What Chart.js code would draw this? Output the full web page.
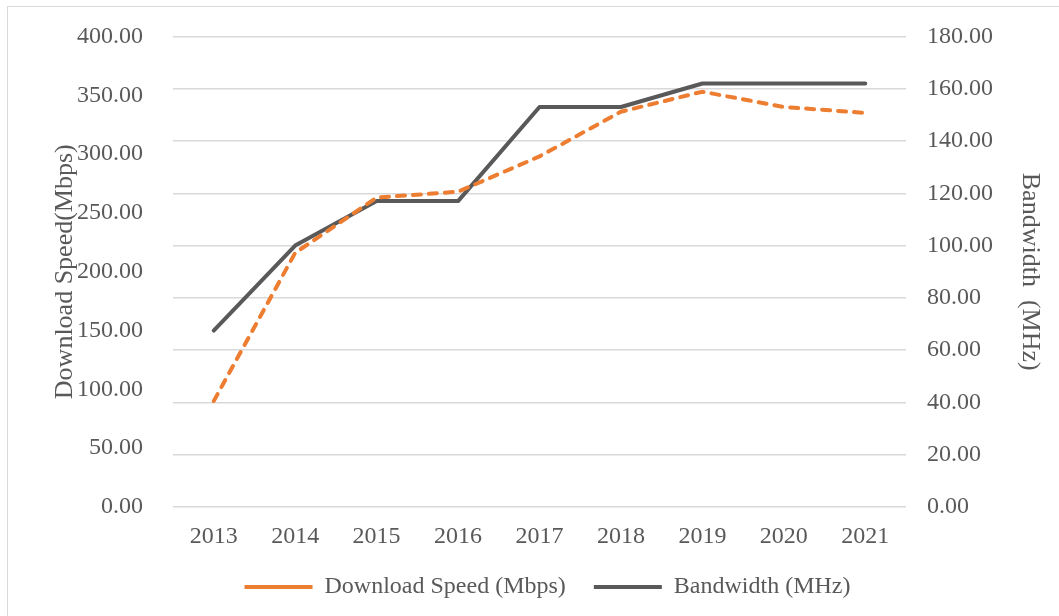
<!DOCTYPE html>
<html>
<head>
<meta charset="utf-8">
<script src="https://cdn.jsdelivr.net/npm/chart.js@4"></script>
<style>
  html, body { margin: 0; padding: 0; background: #fff; }
  #wrap { width: 1059px; height: 616px; }
</style>
</head>
<body>
<div id="wrap"><canvas id="speedChart" width="1059" height="616"></canvas></div>
<script>
const years = ['2013', '2014', '2015', '2016', '2017', '2018', '2019', '2020', '2021'];
const downloadSpeed = [90, 216, 263, 268, 298, 336, 353, 340, 335];
const bandwidth = [67.5, 100, 117, 117, 153, 153, 162, 162, 162];
const speedTicks = [0, 50, 100, 150, 200, 250, 300, 350, 400];
const bandTicks = [0, 20, 40, 60, 80, 100, 120, 140, 160, 180];

const textColor = '#595959';
const serif = "'Liberation Serif', 'Times New Roman', serif";

// rahmen um das ganze diagramm
const frame = {
  id: 'frame',
  beforeDraw(chart) {
    const c = chart.ctx;
    c.save();
    c.strokeStyle = '#d9d9d9';
    c.lineWidth = 1;
    c.strokeRect(7.5, 6.5, 1060, 620);
    c.restore();
  }
};

const ctx = document.getElementById('speedChart').getContext('2d');
new Chart(ctx, {
  type: 'line',
  data: {
    labels: years,
    datasets: [
      {
        label: 'Download Speed (Mbps)',
        data: downloadSpeed,
        yAxisID: 'y',
        borderColor: '#ED7D31',
        backgroundColor: '#ED7D31',
        borderWidth: 4,
        borderDash: [8, 8],
        borderCapStyle: 'round',
        pointRadius: 0,
        tension: 0
      },
      {
        label: 'Bandwidth (MHz)',
        data: bandwidth,
        yAxisID: 'y2',
        borderColor: '#595959',
        backgroundColor: '#595959',
        borderWidth: 4,
        borderCapStyle: 'round',
        borderJoinStyle: 'round',
        pointRadius: 0,
        tension: 0
      }
    ]
  },
  options: {
    responsive: false,
    animation: false,
    layout: { padding: { left: 50, right: 14, top: 30, bottom: 7 } },
    plugins: {
      legend: {
        position: 'bottom',
        labels: {
          usePointStyle: true,
          pointStyle: 'line',
          pointStyleWidth: 68,
          padding: 28,
          color: textColor,
          font: { family: serif, size: 24 }
        }
      },
      tooltip: { enabled: false }
    },
    scales: {
      x: {
        offset: true,
        grid: { display: false },
        border: { display: false },
        ticks: { color: textColor, padding: 7, font: { family: serif, size: 24 } },
        afterFit(s) { s.height = 40; }
      },
      y: {
        position: 'left',
        min: 0,
        max: 400,
        afterBuildTicks(s) { s.ticks = speedTicks.map(v => ({ value: v })); },
        grid: { display: false },
        border: { display: false },
        ticks: {
          color: textColor,
          padding: 22,
          font: { family: serif, size: 24 },
          callback: v => v.toFixed(2)
        },
        title: {
          display: true,
          text: 'Download Speed(Mbps)',
          color: textColor,
          padding: 0,
          font: { family: serif, size: 26 }
        },
        afterFit(s) { s.width = 123; }
      },
      y2: {
        position: 'right',
        min: 0,
        max: 180,
        afterBuildTicks(s) { s.ticks = bandTicks.map(v => ({ value: v })); },
        grid: { color: '#d9d9d9', lineWidth: 1.5, drawTicks: false },
        border: { display: false },
        ticks: {
          color: textColor,
          padding: 21,
          font: { family: serif, size: 24 },
          callback: v => v.toFixed(2)
        },
        title: {
          display: true,
          text: 'Bandwidth  (MHz)',
          color: textColor,
          padding: 0,
          font: { family: serif, size: 26 }
        },
        afterFit(s) { s.width = 139; }
      }
    }
  },
  plugins: [frame]
});
</script>
</body>
</html>
